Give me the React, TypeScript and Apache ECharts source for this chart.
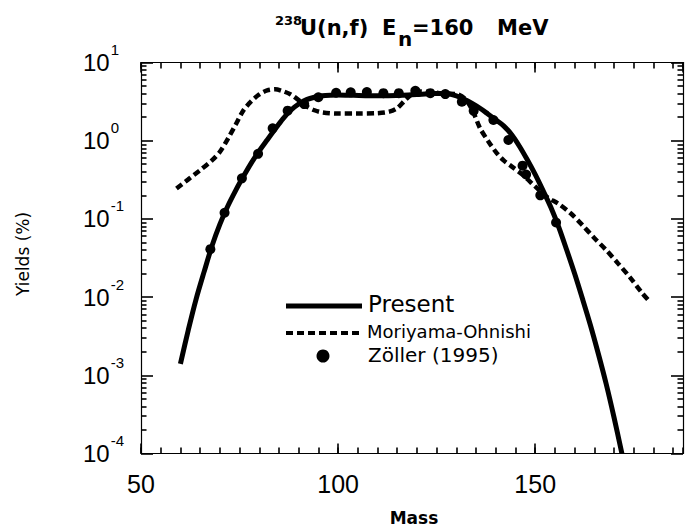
import React, { useEffect, useRef } from 'react';
import * as echarts from 'echarts';

// Present calculation (solid line)
const presentMass = [60, 62, 64, 66, 68, 70, 72, 74, 76, 78, 80, 82, 84, 86, 88, 90, 92, 94, 96, 98, 100, 104, 108, 112, 116, 120, 124, 127, 130, 132, 134, 136, 138, 140, 142, 144, 146, 148, 150, 152, 154, 156, 158, 160, 162, 164, 166, 168, 170, 172];
const presentYield = [0.0014, 0.0038, 0.0095, 0.021, 0.045, 0.085, 0.145, 0.23, 0.35, 0.52, 0.74, 1.02, 1.4, 1.9, 2.45, 2.95, 3.35, 3.6, 3.75, 3.82, 3.85, 3.8, 3.75, 3.75, 3.8, 3.9, 4.0, 4.0, 3.75, 3.4, 3.0, 2.6, 2.2, 1.85, 1.55, 1.2, 0.85, 0.57, 0.37, 0.23, 0.14, 0.078, 0.04, 0.02, 0.0095, 0.0044, 0.0019, 0.00078, 0.00029, 0.0001];

// Moriyama-Ohnishi (dashed line)
const moriMass = [59, 62, 65, 68, 70, 72, 74, 76, 78, 80, 82, 84, 86, 88, 90, 92, 94, 96, 100, 105, 110, 113, 115, 117, 119, 121, 124, 127, 130, 132, 134, 136, 138, 140, 142, 144, 147, 150, 153, 156, 159, 162, 165, 168, 171, 174, 177, 179];
const moriYield = [0.245, 0.32, 0.42, 0.56, 0.72, 1.05, 1.6, 2.45, 3.2, 3.9, 4.4, 4.55, 4.3, 3.9, 3.3, 2.75, 2.45, 2.3, 2.22, 2.22, 2.25, 2.35, 2.6, 3.3, 4.0, 4.25, 4.15, 4.0, 3.95, 3.5, 2.5, 1.45, 1.0, 0.72, 0.56, 0.47, 0.36, 0.26, 0.19, 0.155, 0.118, 0.083, 0.057, 0.04, 0.027, 0.018, 0.0115, 0.0088];

// Zöller (1995) data points
const zollerMass = [67.6, 71.2, 75.6, 79.7, 83.4, 87.2, 91.4, 95.0, 99.5, 103.2, 107.3, 111.5, 115.4, 119.6, 123.4, 127.2, 131.4, 134.4, 139.4, 143.2, 146.8, 147.7, 151.3, 155.3];
const zollerYield = [0.041, 0.12, 0.33, 0.68, 1.44, 2.42, 2.94, 3.59, 4.1, 4.15, 4.2, 4.05, 4.05, 4.35, 4.05, 3.95, 3.15, 2.41, 1.84, 1.02, 0.48, 0.37, 0.2, 0.09];

const xMin = 50;
const xMax = 187.5;
const xMajorStep = 50;
const xMinorStep = 5;
const yMin = 1e-4;
const yMax = 10;

// log minor ticks (2..9 within each decade)
const yDecades = [1e-4, 1e-3, 1e-2, 1e-1, 1];
const yMultipliers = [2, 3, 4, 5, 6, 7, 8, 9];
const minorTickLenMass = 1.4; // length of a y minor tick, in mass units

const seriesNames = ['Present', 'Moriyama-Ohnishi', 'Zöller (1995)'];

const pairs = (xs: number[], ys: number[]) => xs.map((x, i) => [x, ys[i]]);

export default function App() {
  const ref = useRef<HTMLDivElement>(null);
  useEffect(() => {
    if (!ref.current) return;
    const chart = echarts.init(ref.current, undefined, { renderer: 'svg' });
    const black = '#000';
    const axisLine = { show: true, onZero: false, lineStyle: { color: black, width: 1.2 } };
    const noLine = { show: false, onZero: false };
    const tick = (len: number) => ({ show: true, inside: true, length: len, lineStyle: { color: black, width: 1.6 } });
    const dv = 'DejaVu Sans';

    const yMinorTicks: any[] = [];
    yDecades.forEach((d) => {
      yMultipliers.forEach((k) => {
        const v = k * d;
        yMinorTicks.push([{ coord: [xMin, v] }, { coord: [xMin + minorTickLenMass, v] }]);
        yMinorTicks.push([{ coord: [xMax - minorTickLenMass, v] }, { coord: [xMax, v] }]);
      });
    });

    const xBase = { type: 'value', min: xMin, max: xMax, splitLine: { show: false } };
    const yBase = { type: 'log', logBase: 10, min: yMin, max: yMax, splitLine: { show: false } };

    const option: any = {
      animation: false,
      backgroundColor: '#fff',
      grid: { left: 141, top: 62.5, width: 542, height: 391, containLabel: false },
      xAxis: [
        {
          ...xBase, interval: xMajorStep, position: 'bottom',
          axisLine, axisTick: tick(10),
          axisLabel: {
            margin: 18, color: black, fontFamily: 'Liberation Sans', fontSize: 25,
            showMaxLabel: false,
            formatter: (v: number) => (v % xMajorStep === 0 ? String(v) : ''),
          },
        },
        { ...xBase, interval: xMinorStep, position: 'bottom', axisLine: noLine, axisTick: tick(6), axisLabel: { show: false } },
        { ...xBase, interval: xMajorStep, position: 'top', axisLine, axisTick: tick(10), axisLabel: { show: false } },
        { ...xBase, interval: xMinorStep, position: 'top', axisLine: noLine, axisTick: tick(6), axisLabel: { show: false } },
      ],
      yAxis: [
        {
          ...yBase, position: 'left', axisLine, axisTick: tick(12),
          axisLabel: {
            align: 'left', margin: 58, color: black,
            formatter: (v: number) => `{b|10}{e|${Math.round(Math.log10(v))}}`,
            rich: {
              b: { fontFamily: 'Liberation Sans', fontSize: 24, lineHeight: 24, color: black },
              e: { fontFamily: 'Liberation Sans', fontSize: 15, lineHeight: 15, padding: [0, 0, 26, 1], color: black },
            },
          },
        },
        { ...yBase, position: 'right', axisLine, axisTick: tick(12), axisLabel: { show: false } },
      ],
      series: [
        {
          name: seriesNames[0], type: 'line', data: pairs(presentMass, presentYield),
          showSymbol: false, smooth: 0.3, lineStyle: { color: black, width: 5 }, z: 3,
        },
        {
          name: seriesNames[1], type: 'line', data: pairs(moriMass, moriYield),
          showSymbol: false, smooth: 0.3, lineStyle: { color: black, width: 4.5, type: [7, 4] }, z: 2,
        },
        {
          name: seriesNames[2], type: 'scatter', data: pairs(zollerMass, zollerYield),
          symbol: 'circle', symbolSize: 10, itemStyle: { color: black, opacity: 1 }, z: 4,
          markLine: {
            silent: true, symbol: ['none', 'none'], animation: false,
            label: { show: false },
            lineStyle: { color: black, width: 1.6, type: 'solid', opacity: 1 },
            emphasis: { disabled: true },
            data: yMinorTicks,
          },
        },
      ],
      graphic: [
        // title
        { type: 'text', x: 275, y: 20, style: { text: '238', fontFamily: dv, fontWeight: 'bold', fontSize: 13, fill: black, align: 'left', verticalAlign: 'middle' } },
        { type: 'text', x: 300, y: 27.5, style: { text: 'U(n,f)', fontFamily: dv, fontWeight: 'bold', fontSize: 21, fill: black, align: 'left', verticalAlign: 'middle' } },
        { type: 'text', x: 382, y: 27.5, style: { text: 'E', fontFamily: dv, fontWeight: 'bold', fontSize: 21, fill: black, align: 'left', verticalAlign: 'middle' } },
        { type: 'text', x: 398, y: 39, style: { text: 'n', fontFamily: dv, fontWeight: 'bold', fontSize: 20, fill: black, align: 'left', verticalAlign: 'middle' } },
        { type: 'text', x: 412, y: 27.5, style: { text: '=160', fontFamily: dv, fontWeight: 'bold', fontSize: 21, fill: black, align: 'left', verticalAlign: 'middle' } },
        { type: 'text', x: 497, y: 27.5, style: { text: 'MeV', fontFamily: dv, fontWeight: 'bold', fontSize: 21, fill: black, align: 'left', verticalAlign: 'middle' } },
        // axis names
        { type: 'text', x: 23, y: 254, rotation: Math.PI / 2, style: { text: 'Yields (%)', fontFamily: dv, fontSize: 17, fill: black, align: 'center', verticalAlign: 'middle' } },
        { type: 'text', x: 414, y: 518, style: { text: 'Mass', fontFamily: dv, fontWeight: 'bold', fontSize: 17, fill: black, align: 'center', verticalAlign: 'middle' } },
        // legend
        { type: 'line', shape: { x1: 286, y1: 306, x2: 362, y2: 306 }, style: { stroke: black, lineWidth: 5 } },
        { type: 'text', x: 368, y: 303.5, style: { text: seriesNames[0], fontFamily: dv, fontSize: 23, fill: black, align: 'left', verticalAlign: 'middle' } },
        { type: 'line', shape: { x1: 286, y1: 333, x2: 362, y2: 333 }, style: { stroke: black, lineWidth: 4, lineDash: [7, 4] } },
        { type: 'text', x: 367, y: 331.5, style: { text: seriesNames[1], fontFamily: dv, fontSize: 18, fill: black, align: 'left', verticalAlign: 'middle' } },
        { type: 'circle', shape: { cx: 323, cy: 356, r: 6.5 }, style: { fill: black } },
        { type: 'text', x: 368, y: 355, style: { text: seriesNames[2], fontFamily: dv, fontSize: 20, fill: black, align: 'left', verticalAlign: 'middle' } },
      ],
    };
    chart.setOption(option);
    return () => chart.dispose();
  }, []);
  return <div ref={ref} style={{ position: 'fixed', left: 0, top: 0, width: 689, height: 528, background: '#fff' }} />;
}
